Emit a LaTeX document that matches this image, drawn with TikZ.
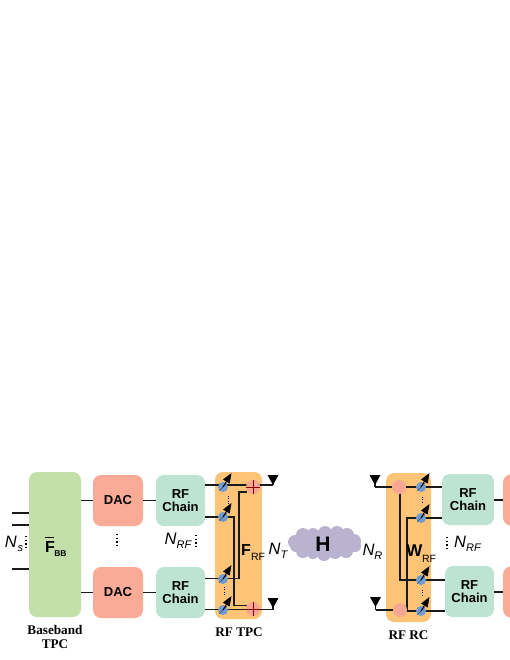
\documentclass[tikz,border=0pt]{standalone}
\usepackage{fontspec}
\setmainfont{Liberation Sans}
\newfontfamily\serifcap{Liberation Serif}
\usetikzlibrary{arrows.meta}
\definecolor{bbgreen}{HTML}{C3E0AB}
\definecolor{dacred}{HTML}{F9AB98}
\definecolor{chaingreen}{HTML}{BDE3D3}
\definecolor{rforange}{HTML}{FDC477}
\definecolor{pspink}{HTML}{F6A794}
\definecolor{psblue}{HTML}{6F9BD0}
\definecolor{cloudc}{HTML}{B9B3CF}
\definecolor{wire}{HTML}{1A1A1A}
\tikzset{
 x=1pt,y=-1pt,
 blockbox/.style={rounded corners=8pt,inner sep=0pt,align=center,font=\fontsize{13}{14}\selectfont\bfseries},
 dacbox/.style={blockbox,fill=dacred,minimum width=50pt,minimum height=51pt},
 chainbox/.style={blockbox,fill=chaingreen,minimum height=51pt},
 panel/.style={rounded corners=8pt,fill=rforange,inner sep=0pt},
 wireline/.style={draw=wire,line width=1.25pt},
 pshift/.style={circle,fill=psblue,minimum size=10pt,inner sep=0pt},
 adder/.style={circle,fill=pspink,minimum size=14pt,inner sep=0pt},
 antenna/.style={fill=black,draw=none},
 mathlabel/.style={inner sep=0pt,font=\fontsize{16.5}{16.5}\selectfont},
 caption/.style={inner sep=0pt,align=center,font=\fontsize{13.2}{14.5}\selectfont\serifcap\bfseries},
 vdots/.style={draw=black,line width=1.3pt,dash pattern=on 1.4pt off 2.2pt},
 smalldots/.style={draw=black,line width=.9pt,dash pattern=on 1pt off 1.4pt},
 tune/.style={draw=black,line width=.9pt,-{Triangle[length=10pt,width=7.5pt]}},
}
\newcommand{\subl}[1]{{\fontsize{11}{11}\selectfont\itshape #1}}
\begin{document}
\begin{tikzpicture}
\useasboundingbox (0,0) rectangle (510,660);
\clip (0,0) rectangle (510,660);
% panels and blocks
\node[blockbox,fill=bbgreen,minimum width=52pt,minimum height=145pt] (bb) at (55,544.5) {};
\node[dacbox] (dac1) at (118,500.5) {DAC};
\node[dacbox] (dac2) at (118,592.5) {DAC};
\node[chainbox,minimum width=49pt] (rf1) at (180.5,500.5) {RF\\[-0.5pt]Chain};
\node[chainbox,minimum width=49pt] (rf2) at (180.5,592.5) {RF\\[-0.5pt]Chain};
\node[panel,minimum width=47pt,minimum height=147pt] (tpc) at (238.5,545.5) {};
\node[panel,minimum width=45pt,minimum height=149pt] (rc) at (408.5,547.5) {};
\node[chainbox,minimum width=52pt] (rf3) at (468,499.5) {RF\\[-0.5pt]Chain};
\node[chainbox,minimum width=49pt] (rf4) at (469.5,591.5) {RF\\[-0.5pt]Chain};
\node[dacbox] (dac3) at (528,500) {};
\node[dacbox] (dac4) at (528,592) {};
% input streams
\coordinate (s1) at (12,513);
\coordinate (s2) at (12,525);
\coordinate (s3) at (12,569);
\foreach \s in {s1,s2,s3} \draw[wireline] (\s) -- (bb.west |- \s);
% block links
\draw[wireline] (bb.east |- dac1) -- (dac1.west);
\draw[wireline] (bb.east |- dac2) -- (dac2.west);
\draw[wireline] (dac1.east) -- (rf1.west);
\draw[wireline] (dac2.east) -- (rf2.west);
\draw[wireline] (rf3.east |- dac3) -- (dac3.west);
\draw[wireline] (rf4.east |- dac4) -- (dac4.west);
% transmit network
\coordinate (t1) at (205,485);
\coordinate (t2) at (205,517);
\coordinate (t3) at (205,578.7);
\coordinate (t4) at (205,609.7);
\coordinate (antt1) at (273,485);
\coordinate (antt2) at (273,609.7);
\draw[wireline] (t1) -- (antt1);
\draw[wireline] (t4) -- (antt2);
\draw[wireline] (t2) -| (234,605.7) -- (247,605.7);
\draw[wireline] (t3) -| (239,492) -- (247,492);
\node[adder] (addt1) at (253,487) {};
\node[adder] (addt2) at (253,609) {};
\draw[line width=.4pt,draw=red!55!black] (addt1.west) -- (addt1.east) (addt1.north) -- (addt1.south);
\draw[line width=.4pt,draw=red!55!black] (addt2.west) -- (addt2.east) (addt2.north) -- (addt2.south);
\foreach \n/\y in {1/487,2/517,3/579,4/610}{
  \node[pshift] (pt\n) at (223,\y) {};
  \draw[draw=psblue!50!black,line width=.5pt] (pt\n.south west) -- (pt\n.north east);
  \draw[tune] (pt\n.center) -- ++(8.5,-14);
}
\draw[smalldots] (228,496) -- (228,504);
\draw[smalldots] (224,587) -- (224,595);
% antennas
\draw[wireline] (antt1) -- ++(0,-5);
\draw[wireline] (antt2) -- ++(0,-7);
\fill[antenna] (267.5,475) -- (278.5,475) -- (273,485) -- cycle;
\fill[antenna] (267.5,598) -- (278.5,598) -- (273,608) -- cycle;
% channel cloud
\fill[cloudc] (325,543) ellipse (27 and 13);
\foreach \cx/\cy/\r in {295/542/7,303/535/7,313/534/6,325/533/7,337/533/7,347/535/7,354/541/7,355/546/6,346/551/7,335/552/7,324/554/7,313/553/6,303/551/7,296/546/6}
  \fill[cloudc] (\cx,\cy) circle (\r);
\node[inner sep=0pt,font=\fontsize{21}{21}\selectfont\bfseries] (chan) at (323,544) {H};
% receive network
\coordinate (antr1) at (375,487);
\coordinate (antr2) at (375.5,610);
\draw[wireline] (antr1) -- ++(24,0);
\draw[wireline] (antr2) -- ++(24.5,0);
\draw[wireline] (antr1) -- ++(0,-6);
\draw[wireline] (antr2) -- ++(0,-8);
\fill[antenna] (369.5,475) -- (380.5,475) -- (375,485) -- cycle;
\fill[antenna] (370,597) -- (381,597) -- (375.5,607) -- cycle;
\draw[wireline] (399,487) -- (rf3.west |- 0,487);
\draw[wireline] (400,611) -- (rf4.west |- 0,611);
\draw[wireline] (400,487) |- (rf4.west |- 0,580);
\draw[wireline] (407,610) |- (rf3.west |- 0,518);
\node[adder] (addr1) at (399,487) {};
\node[adder] (addr2) at (400,610) {};
\foreach \n/\y in {1/487,2/518,3/580,4/611}{
  \node[pshift] (pr\n) at (421,\y) {};
  \draw[draw=psblue!50!black,line width=.5pt] (pr\n.south west) -- (pr\n.north east);
  \draw[tune] (pr\n.center) -- ++(8.5,-14);
}
\draw[smalldots] (422,497) -- (422,504);
\draw[smalldots] (422,590) -- (422,597);
% dots
\draw[vdots] (26,536) -- (26,548);
\draw[vdots] (117,534) -- (117,547);
\draw[vdots] (196,535) -- (196,548);
\draw[vdots] (447,537) -- (447,549);
% labels
\node[mathlabel] (ns) at (14,544) {\itshape N\kern1pt\raisebox{-4pt}{\subl{s}}};
\node[mathlabel] (nrf1) at (178,541) {\itshape N\raisebox{-4pt}{\subl{RF}}};
\node[mathlabel] (nt) at (278,550.5) {\itshape N\raisebox{-4pt}{\subl{T}}};
\node[mathlabel] (nr) at (372.5,551.5) {\itshape N\raisebox{-4pt}{\subl{R}}};
\node[mathlabel] (nrf2) at (467.5,544) {\itshape N\raisebox{-4pt}{\subl{RF}}};
\node[inner sep=0pt,font=\fontsize{16}{16}\selectfont\bfseries] (fbb) at (50,546.5) {F};
\draw[line width=.9pt] (fbb.north west) ++(0,-3) -- ++(9,0);
\node[inner sep=0pt,font=\fontsize{8.5}{8.5}\selectfont\bfseries] (fbbsub) at (60.5,553.5) {BB};
\node[inner sep=0pt,font=\fontsize{16}{16}\selectfont\bfseries] (frf) at (246,549.5) {F};
\node[inner sep=0pt,font=\fontsize{10.5}{10.5}\selectfont] (frfsub) at (258,556.5) {RF};
\node[inner sep=0pt,font=\fontsize{17}{17}\selectfont\bfseries] (wrf) at (414.5,551) {W};
\node[inner sep=0pt,font=\fontsize{10.5}{10.5}\selectfont] (wrfsub) at (429,558.5) {RF};
\node[caption] (capbb) at (55,637) {Baseband\\TPC};
\node[caption] (captpc) at (239,632) {RF TPC};
\node[caption] (caprc) at (408.5,635) {RF RC};
\end{tikzpicture}
\end{document}
